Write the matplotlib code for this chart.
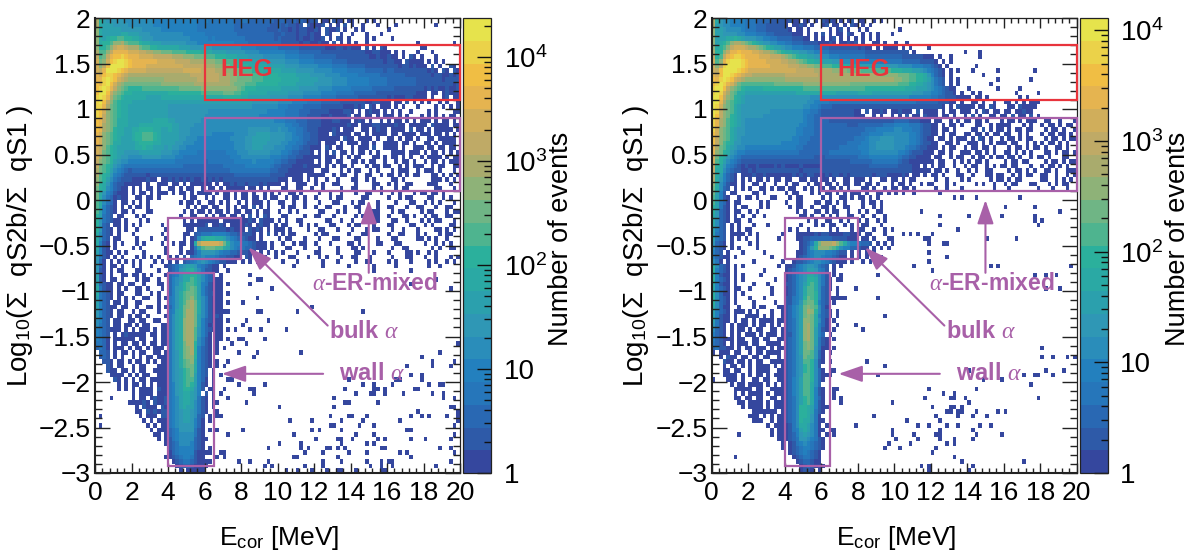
import numpy as np
import matplotlib
matplotlib.use("Agg")
import matplotlib.pyplot as plt
from matplotlib.colors import ListedColormap, LogNorm
from matplotlib.patches import Rectangle
from matplotlib.ticker import FixedLocator, FuncFormatter, NullFormatter

plt.rcParams['font.family'] = ['Liberation Sans', 'DejaVu Sans']
plt.rcParams['mathtext.fontset'] = 'custom'
plt.rcParams['mathtext.rm'] = 'Liberation Sans'
plt.rcParams['mathtext.it'] = 'Liberation Serif:italic'
plt.rcParams['mathtext.bf'] = 'Liberation Sans:bold'

X_TICKS = [0, 2, 4, 6, 8, 10, 12, 14, 16, 18, 20]
Y_TICKS = [-3, -2.5, -2, -1.5, -1, -0.5, 0, 0.5, 1, 1.5, 2]
BAND_COLORS = ['#35479e', '#2e5aa8', '#2968b3', '#2676ba', '#2380be', '#2a8dba', '#2f97b5', '#2ba0ad',
               '#2aa9a4', '#2bb09c', '#4eb48f', '#6fb585', '#8eb278', '#a9ab6d', '#bfaa66', '#d0ae5b',
               '#e5b450', '#f0be44', '#ebd249', '#e6e34c']
LEVEL_CODES = '.123456789abcdefghijk'   # colour band of each bin, '.' means an empty bin
LEFT_VMAX = 2.37e4
RIGHT_VMAX = 1.29e4

LEFT_ROWS = [
"ea87777766 6666665555 5555555544 5444444433 4433333332 3322323212 2.11.211.1 1...1.1...",
"e988877776 6666665555 5555555544 4444444433 3333333322 3232212.21 112.1.1.2. 1..1...1.. ..1....... ...1......",
"d988888777 7776666655 5555555544 4444444433 3333333222 3221212211 21.2112.1. .1.1...... 1.........",
"d988888998 8877766666 6666555555 4444444443 3333333332 2322212212 11.21..1.. 1...1...1.",
"d989aabbaa 9987776666 6666665555 5454444444 4333333332 3222212112 112.1.21.1 ....1.1... .1........",
"d9aabddecb bba9988877 7777766655 5555555544 4433333333 3222221221 1211.2.1.1 .1..1..... ........1. ........1.",
"daabdfggfe eecbbaa999 9998887777 7766666666 5555444444 3333332222 2221112212 111.2.1.21 .........1 1.........",
"ebbdfhhhhg ggffeeddcc cbbbbaaaa9 9988887777 7666655555 5544443333 3322222222 2222112211 1.1.1...1. ..1.......",
"fbcfhiijih hhggggffff feeedddccc bbbaaa9998 8877776666 6655554444 3333332222 2222211211 211.1.21.1 ...1......",
"gcdgijkkji hhhhhhhggg ggffffeeee dddcccbbaa 9998888777 7766665555 4444433332 2222222221 2211.21111 .1.1.1....",
"gdfikkkkji hhhhgggggg ggggffffff eeeddccbba aa99999888 8877776666 6555544443 3333222222 2221221211 1.2.1..21.",
"gfhkkkjihg ggggffffff ffffgggggf fffeeeddcc bbbaaa9999 9888877777 6666655554 4444333332 3322222222 2121.21.21",
"hgijjihgfe eeeeeeeeee eeeeeeffff ffffeeeddc cccbbbaaaa 9999988887 7776666555 5544444433 3333322222 2212211212",
"hhjkjigfed ddddddddde eeeeeeeeff ffffeeeddc cccbbbaaaa a999998888 8777766665 5555544444 3333333322 2222212222",
"ihjkigedcc ccccccccdd dddddddeee eeeeeeedcc cbbbaaaaaa 9999988888 7777766665 5555544444 3333333322 2222222212",
"ijkjhfdcba aaabbbbbbb bbbccccccd dddddddddc baaa999999 9888887777 7666655555 4444443333 3322222222 1212112112",
"ikkifdcbaa 9999999999 aaaaaaaaab bbbbbcccbb aa99999888 8887777666 6655554444 4333333222 2222222211 1.11.12111",
"jkjhecba99 9999888899 9999999999 99999aaaaa 9988888877 7776666555 5544443333 3322222222 1211122111 1.1..12.11",
"jkifdba999 8888888888 8888888888 8888888888 8887777777 6666555544 4433333222 2222112211 1.11.2.1.1 .1..1.1..1",
"jjhecba998 8888888888 7777777777 7777777777 7776666666 5554444333 3322222211 1212.21.11 1.1.1...1. ...1.1.1.1",
"jigdcba998 8888888888 7777777777 7666666666 6666666555 5544443332 2222111122 1.1.1211.1 .1.1..1... .1.1....11",
"jifdcba998 8888888888 7777777777 6666666666 6666655555 5544443322 2211211112 .11.11.1.1 11.1.1...1 .1.1.1.11.",
"ihfdcb9998 8888889999 8877777776 6666666666 6666666665 5544433322 2211122111 .121.1..1. 1.11.1.1.1 11.1.11.1.",
"ihedcb9998 8899999999 9887777666 6666666666 6666666666 6655443322 2211111112 11.1112211 11211.1111 1.21111.11",
"ihedca9988 99aaaa9988 9887776666 6666666666 6677777766 7665544322 2111121.11 1..11.1211 .1111.2.11 .1.11111.1",
"hgdcba9988 9aabbba988 8887776666 6655555566 6677888877 7766544332 2111.21111 .11.1.1111 .11.1111.1 11.11.1.1.",
"hgdcba9888 9aabbba988 8887766655 5555555666 6778888877 7766554332 2111111.21 1.1111.1.. 11.1.11.1. .11.11111.",
"hgdcb99888 89aaaa9988 8877666555 5555555566 6778888777 7665544322 21.111.1.1 11.11.1..1 111.11.1.. 11.1.1111.",
"gfdba98888 899a998887 8776655555 5555555566 6778887776 6655443221 11.21.11.. 1.111.2..1 111.1..111 .11.11.11.",
"gfcba98877 7788888877 7665555544 4444445556 6677777766 6554332221 .1.1.2.11. 1.11.1.1.. .1111.111. 1.11.1.1.1",
"gecba98776 6667777766 6655444444 4444444555 6666666655 5443322111 11.111.1.1 .11...11.1 .11.1.1..1 .1111.1.11",
"fdcba87665 5555555555 5544444444 3444444455 5556555554 4332211111 .1.11.11.. 11.1.11..1 ..1.11.1.. 1.11.1.111",
"fcba976544 4444444444 4444333333 3333344444 4555555543 3222111211 11.1.1.11. 1...1.11.1 1..1.1.111 ..1.11..11",
"ecba865432 3333333333 3333333333 3333333444 4444444433 2221111111 ..11...1.1 .11..1.1.. .1.111..1. 111.1...1.",
"eba9754322 2222122222 2222222222 2222222233 3333333322 2211111.11 111..1.11. .1..11..1. 11.1.1.11. ..11.1.1.1",
"dba8643222 1111211.11 2121212112 1212122222 2222222222 111.111.1. 1..1..1... 11..1.1... .11.1..... ..111.1.1.",
"da97532211 111.1..111 .11.1.1111 11.1.11212 2122212111 1.1..111.. 1.1..11... .1....11.. 1.1..11... .111...1..",
"ca9653211. 1.1.11.1.. 11.1.11..1 .11.1.1111 1.11.1.1.. .11..11..1 ..1....1.. 11....1.1. ..1.11.... ...11...1.",
"c97542111. 1.11.1.111 .1.11.1.11 11.1.11.1. 11.1..1.1. 1..11.1... .1..1..1.. .1..11..1. .1.1...1.1 1.11.1....",
"c96431211. .11.11.1.. ....1.11.. 1.1..11.1. 11.11.1.11 ..1.11.1.. 1...1.11.. ...11..... 1..1.11... .11..1.1..",
"b96431.11. 1.1.1..... ...1.11.1. .11.1.1..1 .1.111.1.. 11..1..1.. .1...11... 1.11...1.. ..1...11.. 1.1.1...1.",
"b95321.1.1 .11.1..... .....1.1.1 1.11..1.1. 11.2.1.1.. .1.11..1.. 1..11...1. .11....1.. 11...1..11 ...1..11..",
"b85321.11. 1...11.... ....1.1.11 .1.11.1.11 .11.1.11.. 1..1.1.... .11...1.1. ..1...11.. .1.11....1 .11...1.11",
"a8432.11.. .1.1...... ...1..11.. 1.1.11.11. 1.2.1.21.. .11....1.. 11...1.... .1.1..11.. 1...11.1.. 1.11..11..",
"a743211.1. ..1.1..... ....1.1.11 1111.11111 1121.2111. 1.1..11... ...11..1.. 1...1.11.. .11..1...1 .1.11...1.",
"a732.11.1. 1.1.....1. ....111111 2.1121.111 121.1211.1 .11...1.1. 1...11...1 .11...1... 11....11.. 1.1....11.",
"a7321.1.1. .1.......1 .....11.22 2222221211 1.2121.1.1 11.1....1. .11...1... 1...1.11.. .1..1...1. ...11.1.1.",
"96321.1... 1.......1. ....11.234 4455554332 2221.1.2.1 .1.11..... 1.11.....1 ...11..... 1..11...1. 1...1.11..",
"9632.11... .1...1...1 ....1.1269 aaa9986543 3211.1.... 1.11...1.. .1...11... .11....1.. .11.....11 .1.1..1...",
"9521.1.1.. .1.1....1. .1.11.19eg ggggfc9655 4432111.1. .1..1.11.. 1...1....1 1.1....11. ..11...... 1..1.1.1..",
"9521.1.... 1.1......1 ...1..148b cccbb98654 4332111.1. ..11...1.. .1....1... 11.1...... .1..11.... ..1.1..11.",
"85211.1.1. ...1.....1 ...1.11357 7776544332 2211.1.1.1 .1...1.... 11....1... .11...1... 1....11.1. .1.1......",
"7421.1.1.. .1.1.1.1.. 1.1.2.3456 5554332211 .21.1.1..1 ...11...1. .1.1...1.. 11...1.... .1...11... 1..1...1.1",
"731.1.1.1. 1.1...1.1. 1.1.234567 6543221.1. 1.1.1..... .1...1.... ..1...1... .1..11.... 1.1...1... .1.1..1...",
"731.11.1.. 1.1..1...1 2346788754 3211.1....",
"721.1.11.. .11....1.. 234789a864 2211..1...",
"821.1..11. 11.1.1...1 345799aa86 432.1.....",
"821.11.1.. .1.11..1.. 356799ba86 43211.....",
"83211.11.1 1..1...11. 3568abba85 42111.1...",
"94211.1.1. .11.1...1. 3578abcb85 32111.....",
"94321.11.. .11..1.1.. 3579bccb85 32211.1...",
"84321.1.1. 1..11..1.1 4579bcdb86 42111.....",
"8532.11.1. .11....1.. 4579bdec96 42111.1...",
"853211.11. .1..11.1.1 3579cdec96 42111.....",
"75321.11.. 1.11...1.. 4589ceec96 42111.1...",
"75321.11.1 .11.1....1 4689ceec86 42121.....",
"6532.11..1 1.11..11.. 4689deec85 32111.1...",
"6432.11.11 .1.11...11 4689deec85 31211.....",
"5432111.1. 1.111.1.11 4689deeb75 32111.1...",
"5432.1.121 1111.11.11 4689deeb75 31.11.....",
"5431.11111 1.11..1.11 4689deeb64 21.11.1...",
"4431.1.11. 11.1.11.11 4689ceea64 21.1......",
"3431.111.1 .11.1.111. 4689cdea53 21.1.1....",
".332.1.11. 1.11..11.1 4679cdea53 21.1......",
".232.1.1.. 1.1.11.111 4679cdda53 21........",
"..221.11.1 .11.1.1.11 4679bcd953 21.1..1...",
"...21.11.. 1.11...111 4679bcc953 21...1....",
"...211.11. 1.11..1111 4678abc953 2.1.......",
"....1111.1 .1.11..111 4678abc853 2.1.1.....",
".....21.1. 1.11.11111 4678abb853 1.1.......",
"......1.1. 11.1.1.111 4578aba852 1.1.......",
"......1.1. 1.1111.211 4578aa9752 .11..1....",
".......... 1.1111.111 457899875. 2.1.1.....",
"....1..... 1.11.12112 4568998742 1.1.......",
".........1 11121.2112 4568998642 1.11......",
".......... .1.2111.21 4568988642 1.1.......",
".......... .11.212122 4567887642 1.........",
".1........ ..1.111.22 4567887632 .1.11.....",
".......... ...1.1.111 4567887531 .1........",
".1........ ....1.1.11 4567777531 ..........",
".......... .....1.111 3457777421 .1.1......",
".......... ......11.1 3456666421 ......1...",
".......... .......1.1 2456666321 1.........",
".......... .........1 2346665321 ..........",
".......... .......... 2345555321 .1........",
".......... .......... 1345555211 1...1.....",
".......... .........1 1234554211 ...1.1....",
".......... .......... .123443211 11........",
".......... .......... ..12332111 1.........",
".......... .......... ...1.11111 ..........",
]

LEFT_ISOLATED = {
-0.68: [7.4, 13.3, 19.7], -0.73: [10.9, 12.5, 13.9, 15.25, 16.5, 18.3, 18.9], -0.79: [15.25, 17.3], -0.82: [8.4],
-0.88: [8.86, 9.04, 18.7], -0.93: [8.5, 17.3], -0.97: [9.68, 19.5], -1.02: [7.3, 6.85], -1.08: [8.86], -1.13: [8.09],
-1.18: [11.9], -1.23: [7.09, 8.86, 9.13, 11.05, 11.1, 14.7], -1.34: [9.5, 8.3], -1.39: [8.04],
-1.44: [7.67, 8.6, 9.13, 10.5], -1.54: [8.13, 7.85, 9.3], -1.59: [7.5, 8.3, 19.9],
-1.69: [7.9, 8.86, 11.3, 18.9], -1.74: [8.68, 17.9], -1.79: [6.65, 18.5, 19.7], -1.84: [6.65, 18.5, 17.1, 19.5],
-1.94: [17.3, 17.9], -1.98: [7.3, 7.5, 13.9, 16.5, 16.7, 17.9],
-2.04: [7.9, 9.3, 16.3, 14.7, 15.3, 18.9, 19.1, 18.3], -2.09: [8.5, 8.7, 13.7, 15.3, 15.5, 15.9, 17.5, 17.7],
-2.14: [8.7, 14.3, 15.1, 15.3, 15.9, 16.9, 18.5, 19.1], -2.19: [7.3, 13.1, 19.1, 19.7],
-2.24: [8.3, 13.7, 13.9, 15.5], -2.29: [10.1, 13.1, 19.5, 19.7], -2.34: [6.65, 17.7, 19.9],
-2.39: [12.9, 13.9, 14.1, 14.9, 17.3, 17.9, 18.3, 19.3, 19.9], -2.44: [10.7, 11.9, 13.5, 14.7, 16.7, 19.9],
-2.49: [12.9, 13.1, 14.5, 15.3, 19.7], -2.55: [8.1, 6.7, 11.9, 12.3, 13.5, 17.1, 17.3],
-2.59: [10.9, 14.3, 15.3, 19.7], -2.64: [12.1, 13.3, 13.5, 14.1, 15.5, 15.9, 17.3, 18.1, 19.5],
-2.69: [10.1, 11.3, 13.5, 14.9, 15.3], -2.74: [9.5, 11.3, 11.7, 12.7, 12.9, 13.3, 13.7, 15.7, 15.9, 18.9, 19.5],
-2.79: [7.09, 6.3, 11.5, 12.5, 13.9, 14.9, 16.7, 17.1, 19.7], -2.84: [10.9, 11.1, 13.3, 17.3],
-2.89: [7.9, 8.5, 9.5, 12.5, 13.5, 14.9, 15.7, 16.1, 16.3, 19.5],
-2.94: [9.3, 9.68, 11.5, 12.5, 15.1, 15.7, 16.3, 18.7],
-2.98: [10.5, 11.1, 11.9, 12.7, 13.3, 13.5, 14.3, 15.7, 15.9],
}

RIGHT_ROWS = [
"e976655554 4433332222 1211.11.1. 2121.1.12. 11..1.1...",
"e876655554 4433322222 1.1121.1.. 12.11.1.21 .1.1......",
"d887666654 4433322222 21.11.1... ..1.12.1.. 1.1....... .1........",
"d887777665 5544433222 22111.1.1. 2.1.11.21. .1.1.1...1",
"d88899a987 7766554433 3322211.1. 1.12.1.1.1 .1.1.1....",
"d89abdeedc ba98776655 4433322221 1121.11212 .1..11.1.. 1..1......",
"d9abdfgggf eedcba9887 6655544433 3322222222 1211.1.111 1.1.1....1",
"eaadfhhihh hggfeedcba 9988776655 4433333333 3322222222 2222.1.... .........1 ...1......",
"fabfhijjih hhhgggfffe dcba998877 6655544444 4433333333 3322222211 1.1..1.... ...1......",
"gbdhjkkkji hhhhhggggf feedcbaa99 8887776666 5555554444 4433333222 21.1.1.... ..........",
"gdfjkkkkji hhhhhhgggg gfffeeddcc bbbaaaa999 8888877777 7666655544 321.1..... ..1.......",
"gfikkkkjih gggggggggg gggfffffee eeeddddccc cbbbbbbbba aa99988765 4321.1.1.. .1......1. ........1.",
"hgikkjihgf feeeeeeeee fffffffffe eeeeeeeeee eeeeeedddd dcccbbaa97 5321.1.... ....1.....",
"ihjkjigfed dddddddddd eeeeeeeeee eeeeeeeeee eeeeeeeeee ddccbbaa98 6432.1.1.. ........1. .......1..",
"ijkjhgecbb bbbbbbbccc cccccddddd ddddddddcc cccccccccc cbbbaa9987 6432.1.1.. ......1...",
"jkkifdcba9 9999aaaaaa aaaaabbbbb bbbbbbbbbb bbaaaaaaaa aaa9998887 6543211... 1.......1. ....1.....",
"jkjgecb998 8888888888 8889999999 9999888888 9999888888 8888877766 5543221.1. .1.1...... ...1.....1",
"kkifdca987 7777777777 7777777666 6666666666 6666666666 6666555555 4433222111 1.11.1.... ....1.1...",
"kkhecba987 7777777777 7777776655 5544444444 4444444444 4444443333 3322211.1. .11.1..1.. 11.1.1.111",
"kjgdcb9877 7777777777 7777766554 3332222222 2222222222 2222222222 2221.1.211 11.11.21.. .11.21111.",
"kjfdcb9877 7777776666 6666655443 2222222221 1.2.1121.1 12111.2.11 11.1.11.11 1.1.21.11. 11.11211..",
"kifdca9877 7777666666 6666654433 2222222221 11..1.1..1 .1.2.11.21 11.11.1..1 .2.1..11.1 1.2.11.2.1",
"jhedba9876 6666666666 6666654433 3322222222 2222222222 3333222111 .11..1.1.1 1.11.1...1 .11.1.111. .11..1...1",
"jhedba9876 6666666666 6666554433 3333333222 3333333444 5555444322 11.1.11.1. ..11..1.11 11...1.1.. 1.11.1.11.",
"jgdcb98776 6666666666 6665544433 3333333333 3344455555 6655544322 11.11.1... .11.2.1.11 .1.11.11.. .1.11.1..1",
"igdcb98776 6666666666 6665544433 3333333333 3445555666 6666554322 11.1.11..1 1.11.1.11. 11..1.1... 1.11.11.1.",
"ifdcb98766 6666666666 6655444333 3333333334 4456667777 6666554321 1.11.1.111 .1.21.1..1 .11.1.11.. .1.11.1.11",
"ifdba97766 6666666665 5555443333 3333333444 4556677777 6666554322 11..11.1.. 111.1.1.11 1.11..1.1. 1.11.1.1..",
"hecb987665 5555555555 5554433333 3333344444 5556677777 6665443221 11.1.11..1 .11.11.1.. .1.11.1.11 .1..11.1..",
"hdca976554 4444444444 4444333333 3344444444 4556666666 6554322211 1.11.1..11 1.11.1.1.. 11.1.1.1.. .11.1.11.1",
"gca9765433 3333333333 3333333322 2333333333 4445555555 5433221111 .11..1.11. .1.11.1.11 .11.1..1.1 1.1...11..",
"gba8654322 2222222222 2222222222 2222222233 3333444444 4322111111 1.11..1.1. 1.11.1.... 1.11.11... .1.11.1.11",
"fa97543212 1121111212 1111211111 2222222222 2223333333 3222211.1. 1.11..1..1 .11..1.1.1 1.11...1.. 1.11.1.1..",
"f996432211 2122222222 2222122222 2222222222 2222222222 2222211111 .11.1..1.. 1.1..11... .1.11.1.1. .11.1..111",
"e985321.11 1211211111 1121212211 1212212122 2222122211 1121.11.1. 11.1...11. .1...11.11 ..1.1.11.. 11..1..1.1",
"e975321.1. 1.11.1.11. 11..11.11. 11.1..11.1 11.1..11.1 1.1.11.... .1..1...1. 1.....1.11 .1.11..... 11..1.1.1.",
"d964211.1. .11.1..1.. 1.11..1.11 .11.1.11.1 1.11.1...1 .11.1..1.1 1...1.1... ..1.1..1.. 1.11...11. ..1.1.11..",
"c9632.1.1. 1..11.1.11 .11..1.1.1 1.11.1.1.. .11.1..1.1 1.11.1.... .1..1...1. .......1.. .1.......1 ...1...1..",
"c852.11... .11.1..... 1.11...1.1 .11.1.1.11 1.1..11.1. 1.1..1.... ..1.......",
"b8521..1.1 1.1...11.. .1.11..... 1.1..11.1. 11.1.1....",
"b8431.11.. ...1.1.... 1..11...11 .11.1.1... .1.11.1...",
"a8421.1.11 ...1.1.... .1.11..1.. 11.1..11.. .1..1.1...",
"a7321.11.. 1.1....... ...1.1..11 .1.11..1.. 1.1..11...",
"97321.1.1. .1..1..... ....11.1.. 1.1.1..11. .1..1..1..",
"96321.11.. 1......... ......1.1. .11..1.1.. 1.1..1.1..",
"9632.1.1.. .1...1.... ....1...1. 1.11..1.1. .11...1...",
"8532.1.1.1 1......... .1.1..1... ..1.1...1. 11..1..1.1",
"8432.1111. 1.1......1 ...1111121 2211112211 1.11...1..",
"8432.1.1.1 ..1.....1. ...1122333 3332222111 .11.1...11",
"7321.1.... 1.1....... ....12359c eeefdb9655 4332.1.1.1",
"6321.1.1.. ..1....... ....1247ad ddcb965533 211.1.1.1.",
"532.1...1. ....1..... ...1124566 6554322.1. 1.1.1.....",
"53211.1... ......1... ...1234566 5443211.1. 1.1.1.1...",
"641.1..... .1.......1 ..12234566 5432111.1. .1.1......",
"a6321.1.1. ........1. 1124567764 32.1.1....",
"a5321.1... ....1..... 1234568875 42.1......",
"a5211.1.1. ...1...... 1235679986 42.1.1....",
"a5321.1.1. .......1.. 123567aa96 421.1.....",
"95211.1... .1...1.... 223568ab96 421.......",
"95321.11.. 1.....1... 123569bb96 321.1.....",
"a6311.1.1. ......1... 123569bba6 32..1.....",
"a6321.1... 1...1..... 22456acba6 321.1.....",
"a6321.1... .1.....1.. 22457bcca5 32.1......",
"96311..1.. .1.11...11 23568cdcb6 31........",
"85321.111. 1.1...1..1 23568ceda6 321.1.....",
"85211.1..1 111.1.1..1 23568cdc95 321.......",
"84211.1.11 .1.1111.11 23468ddc96 31.1......",
"7421.1.111 .1.11.1.1. 23468dec95 31..1.....",
"6321.1.11. 1.11..11.1 23468dec85 21.1......",
"5321.1.1.1 11.1.111.1 22468dec85 3.1.......",
"532111.11. .11.11..11 23468dec84 21.1......",
"4321.1.111 .11..1111. 23468cdc84 21........",
"342211.1.1 1.111.1.11 23468cdc74 11.1......",
"1.111.11.. 1.11.1111. 23468ccb73 1.1.......",
"..1.211.11 .11.11..1. 23467cbb73 1.........",
"...211.11. 1.11..1111 23467bba62 1.1.......",
"...1.11.1. 1.1111.1.1 23467aba62 ..........",
"...11.11.. 1.1111..11 23467aba63 1.11......",
"...1111.1. 1.11.1.111 23467bba63 111.......",
"1...111.1. .11.11..11 23568bba63 1.........",
".....1.11. 1111.1.1.1 23568bb963 ..........",
"......1111 1.11..1111 23568bb952 1..1......",
"......1.1. 1111.1.111 23568bb952 1..1......",
"......11.1 1.11..11.1 23468ab953 1..1......",
".......11. 1111.1.111 23468ab952 1.........",
"........1. 1111.1.111 2346aa9852 11........",
".......... .1111111.1 2346aa9842 1.........",
".......... 111.1.1.11 2346aa9741 ..........",
".......... .111..1.11 2346a99741 1.........",
".......... .....1.111 1246998641 .1........",
".......... ......1.11 1245898641 1.1.......",
".......1.. ......1.11 1235787641 .1.1......",
".......... ........11 1234776542 1.........",
".......... .........1 .124565432 1.........",
".......... .........1 .123455432 1.........",
".......... .......... .123454321 ..........",
"......1... .......... ..12344321 ..........",
".......... .......... ...1233211 ..........",
".......... .......... ....123211 1.........",
".......... .......... ....1221.1 ..........",
]

RIGHT_ISOLATED = {
0.03: [13.3, 13.7, 14.5, 16.9], -0.07: [16.1, 17.7], -0.12: [19.1], -0.13: [11.5],
-0.18: [12.5, 14.1, 15.1, 15.9, 17.7], -0.23: [17.7, 18.1], -0.27: [12.5, 17.9], -0.33: [13.5],
-0.38: [10.5, 10.9, 11.3, 12.1], -0.43: [11.7, 11.9, 15.1, 16.7], -0.48: [11.9, 12.7, 12.9], -0.58: [11.9], -0.62: [12.9],
-0.68: [11.9], -0.73: [6.76, 11.1, 15.3, 15.7, 19.7], -0.78: [12.1], -0.83: [9.1, 17.7, 18.3, 18.9], -0.88: [7.1],
-0.98: [7.9, 18.3, 19.1], -1.08: [9.15, 6.67, 7.13, 7.35], -1.23: [6.95], -1.28: [6.95, 9.5], -1.38: [6.95, 7.9],
-1.44: [8.3], -1.64: [18.1], -1.74: [18.1, 18.7, 19.5, 19.9], -1.79: [8.5], -1.84: [9.5], -1.89: [14.1, 18.3, 19.3],
-1.94: [9.15, 17.1, 17.7, 17.9, 18.7], -1.98: [14.9, 15.9], -2.04: [17.5], -2.09: [6.95, 14.5, 11.9],
-2.14: [12.7, 13.3], -2.19: [7.13, 11.7, 13.1, 13.3, 13.9, 17.9], -2.24: [7.13, 9.9, 14.1],
-2.29: [12.1, 13.1, 13.3, 13.7], -2.34: [12.9, 13.1, 13.5, 13.7, 14.5, 15.7, 16.1], -2.39: [8.9, 12.3, 13.5, 14.3, 15.1],
-2.44: [10.7, 12.5], -2.49: [7.9, 11.3, 11.9, 12.9, 13.5, 14.7, 15.3], -2.55: [6.7, 9.9, 12.5, 14.3],
-2.59: [9.9, 11.1, 12.3, 12.5, 14.5, 15.9], -2.64: [10.1, 11.3, 12.5, 13.3, 14.3], -2.69: [9.7, 10.9, 12.9, 13.3],
-2.74: [9.5, 10.3, 12.3], -2.79: [12.1], -2.84: [13.3], -2.89: [13.7, 17.1], -2.94: [11.5, 11.9, 14.3], -2.99: [11.9, 14.1],
}

RED = '#e8343c'
MAGENTA = '#a860a8'
cmap = ListedColormap(BAND_COLORS)


def decode(rows, isolated, vmax):
    levels = np.zeros((100, 100))
    for r, row in enumerate(rows):
        for c, ch in enumerate(row.replace(' ', '')[:100]):
            levels[r, c] = LEVEL_CODES.index(ch)
    for y, energies in isolated.items():
        r = min(int((2 - y) / 0.05), 99)
        for e in energies:
            c = min(int(e / 0.2), 99)
            levels[r, c] = max(levels[r, c], 1)
    counts = 10 ** ((levels - 0.5) * np.log10(vmax) / 20)
    return np.ma.masked_where(levels == 0, counts)[::-1]


def panel(left_px, cax_px, rows, isolated, vmax, cbar_ticks):
    W, H = 1197.0, 556.0
    ax = fig.add_axes([left_px / W, 1 - 473 / H, 365 / W, 455 / H])
    cax = fig.add_axes([cax_px / W, 1 - 473 / H, 28 / W, 455 / H])
    xe = np.linspace(0, 20, 101)
    ye = np.linspace(-3, 2, 101)
    mesh = ax.pcolormesh(xe, ye, decode(rows, isolated, vmax), cmap=cmap,
                         norm=LogNorm(vmin=1, vmax=vmax), linewidth=0, rasterized=True)
    ax.set_xlim(0, 20)
    ax.set_ylim(-3, 2)
    ax.xaxis.set_major_locator(FixedLocator(X_TICKS))
    ax.xaxis.set_minor_locator(FixedLocator(np.arange(0, 20.01, 0.4)))
    ax.yaxis.set_major_locator(FixedLocator(Y_TICKS))
    ax.yaxis.set_minor_locator(FixedLocator(np.arange(-3, 2.01, 0.1)))
    ax.yaxis.set_major_formatter(FuncFormatter(lambda v, p: ('%g' % v).replace('-', '\u2212')))
    ax.tick_params(axis='x', which='major', direction='in', top=True, bottom=True, length=7.5, width=1,
                   labelsize=19, pad=6, color='#222222')
    ax.tick_params(axis='x', which='minor', direction='in', top=True, bottom=True, length=3.8, width=1, color='#222222')
    ax.tick_params(axis='y', which='major', direction='in', left=True, right=True, length=10.5, width=1,
                   labelsize=19, pad=3, color='#222222')
    ax.tick_params(axis='y', which='minor', direction='in', left=True, right=True, length=5.2, width=1, color='#222222')
    for s in ax.spines.values():
        s.set_linewidth(0.9)
        s.set_color('#222222')
    ax.spines['left'].set_linewidth(1.5)
    ax.spines['bottom'].set_linewidth(1.5)
    ax.set_xlabel(r'E$_{\mathregular{cor}}$ [MeV]', fontsize=19)
    ax.xaxis.set_label_coords(0.505, -0.112)
    ax.set_ylabel('Log$_{\\mathregular{10}}$(\u03a3  qS2b/\u03a3  qS1 )', fontsize=20)
    ax.yaxis.set_label_coords(-0.165, 0.5)

    # Selection regions
    ax.add_patch(Rectangle((6, 1.1), 14, 0.6, fill=False, ec=RED, lw=1.6, zorder=5, clip_on=False))
    ax.add_patch(Rectangle((6, 0.1), 14, 0.8, fill=False, ec=MAGENTA, lw=1.6, zorder=5, clip_on=False))
    ax.add_patch(Rectangle((4, -0.65), 4, 0.45, fill=False, ec=MAGENTA, lw=1.6, zorder=5))
    ax.add_patch(Rectangle((4, -2.92), 2.5, 2.12, fill=False, ec=MAGENTA, lw=1.6, zorder=5))
    ax.text(8.33, 1.43, 'HEG', color=RED, fontsize=17.5, fontweight='bold', ha='center', va='center', zorder=6)
    ax.text(15.35, -0.92, r'$\alpha$-ER-mixed', color=MAGENTA, fontsize=16.5, fontweight='bold',
            ha='center', va='center', zorder=6)
    ax.text(14.75, -1.44, r'bulk $\alpha$', color=MAGENTA, fontsize=17, fontweight='bold',
            ha='center', va='center', zorder=6)
    ax.text(15.2, -1.91, r'wall $\alpha$', color=MAGENTA, fontsize=17, fontweight='bold',
            ha='center', va='center', zorder=6)
    arrow = dict(arrowstyle='-|>,head_length=1.45,head_width=0.5', color=MAGENTA, lw=1.5,
                 mutation_scale=10, shrinkA=0, shrinkB=0)
    ax.annotate('', xy=(15.0, 0.0), xytext=(15.0, -0.8), arrowprops=arrow, zorder=6)
    ax.annotate('', xy=(8.4, -0.52), xytext=(12.75, -1.38), arrowprops=arrow, zorder=6)
    ax.annotate('', xy=(6.95, -1.91), xytext=(12.5, -1.91), arrowprops=arrow, zorder=6)

    cb = fig.colorbar(mesh, cax=cax)
    cb.outline.set_linewidth(0.9)
    cb.outline.set_edgecolor('#222222')
    cax.yaxis.set_major_locator(FixedLocator(cbar_ticks))
    minors = [m * 10 ** d for d in range(0, 5) for m in range(2, 10) if 1 < m * 10 ** d <= vmax]
    cax.yaxis.set_minor_locator(FixedLocator(minors))
    cax.yaxis.set_minor_formatter(NullFormatter())
    cax.yaxis.set_major_formatter(FuncFormatter(
        lambda v, p: '1' if v == 1 else ('10' if v == 10 else r'$\mathregular{10^{%d}}$' % round(np.log10(v)))))
    cax.tick_params(axis='y', which='major', direction='in', right=True, left=False, length=10, width=1,
                    labelsize=20, pad=9, color='#111111')
    cax.tick_params(axis='y', which='minor', direction='in', right=True, left=False, length=5, width=1, color='#111111')
    cb.set_label('Number of events', fontsize=19.5)
    cax.yaxis.set_label_coords(3.05, 0.515)


fig = plt.figure(figsize=(11.97, 5.56), dpi=100)
CBAR_TICKS = [1, 10, 100, 1000, 10000]
panel(95, 463, LEFT_ROWS, LEFT_ISOLATED, LEFT_VMAX, CBAR_TICKS)
panel(711.7, 1079.5, RIGHT_ROWS, RIGHT_ISOLATED, RIGHT_VMAX, CBAR_TICKS)
fig.savefig('out.png', dpi=100)
